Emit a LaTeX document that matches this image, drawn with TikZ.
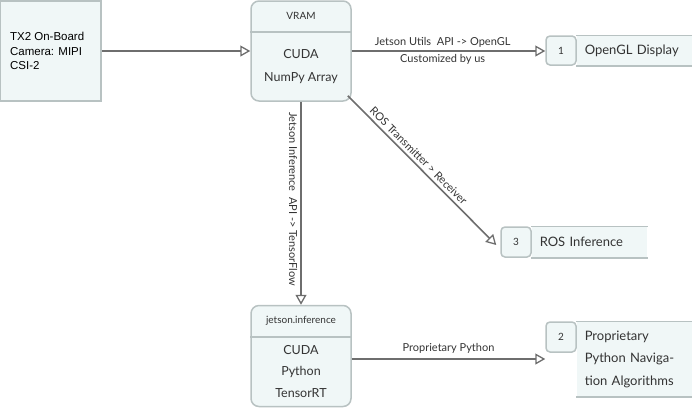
\documentclass[tikz,border=0pt]{standalone}
\usepackage{fontspec}
\setmainfont{Lato}
\newfontfamily\arialfont{Liberation Sans}
\usetikzlibrary{arrows.meta}
\definecolor{boxfill}{HTML}{F0F7F7}
\definecolor{boxline}{HTML}{B8C2C2}
\definecolor{flowline}{HTML}{6E6E6E}
\definecolor{textgray}{HTML}{333333}

\begin{document}
\begin{tikzpicture}[x = 1pt, y = -1pt, line width = 1.5pt, text = textgray,
                        proc/.style = {draw = boxline, fill = boxfill, rounded corners = 8pt, minimum width = 100pt, minimum height = 100pt},
                        store/.style = {fill = boxfill, anchor = west, align = left, inner xsep = 8pt, font = \fontsize{13}{22.5}\selectfont},
                        storeid/.style = {draw = boxline, fill = boxfill, rounded corners = 4pt, minimum width = 30pt, minimum height = 29pt, font = \fontsize{10}{12}\selectfont},
                        flow/.style = {draw = flowline, line width = 1.6pt, -{Triangle[open, length = 10pt, width = 11pt, line width = 1.3pt]}},
                        lbl/.style = {font = \fontsize{11}{13}\selectfont, inner sep = 3pt}]
      \useasboundingbox (0, 0) rectangle (692, 408);
      % entity and processes
      \node [draw = boxline, fill = boxfill, line width = 2pt, minimum width = 101pt, minimum height = 100pt] (cam) at (50.5, 51){};
      \node [anchor = west, align = left, font = \arialfont\fontsize{11.5}{14.5}\selectfont, text = black] (camtext) at (6, 51){TX2 On-Board\\Camera: MIPI\\CSI-2};
      \node [proc] (vram) at (301, 51){};
      \draw [boxline] (vram.west |- 0, 32) -- (vram.east |- 0, 32);
      \node [font = \fontsize{10}{12}\selectfont] (vramtitle) at (301, 16){VRAM};
      \node [align = center, font = \fontsize{12.5}{23}\selectfont] (vrambody) at (301, 66.5){CUDA\\NumPy Array};
      \node [proc, minimum height = 101pt] (jinf) at (301, 356){};
      \draw [boxline] (jinf.west |- 0, 337) -- (jinf.east |- 0, 337);
      \node [font = \fontsize{10}{12}\selectfont] (jinftitle) at (301, 321){jetson.inference};
      \node [align = center, font = \fontsize{12.5}{21.5}\selectfont] (jinfbody) at (301, 371.5){CUDA\\Python\\TensorRT};
      % data stores
      \node [store, text width = 100pt, minimum height = 29pt] (gl) at (576, 50.5){OpenGL Display};
      \draw [boxline] (gl.north west) -- (gl.north east) (gl.south west) -- (gl.south east);
      \node [storeid] (glid) at (561, 50.5){1};
      \node [store, text width = 99pt, minimum height = 30pt] (ros) at (531, 242){ROS Inference};
      \draw [boxline] (ros.north west) -- (ros.north east) (ros.south west) -- (ros.south east);
      \node [storeid, minimum height = 30pt] (rosid) at (516, 242){3};
      \node [store, text width = 100pt, minimum height = 74pt] (nav) at (576, 359){Proprietary\\Python Naviga-\\tion Algorithms};
      \draw [boxline] (nav.north west) -- (nav.north east) (nav.south west) -- (nav.south east);
      \node [storeid, minimum height = 30pt] (navid) at (561, 337){2};
      % flows
      \draw [flow] (cam.east) -- (vram.west);
      \draw [flow] (vram.east) -- (vram.east -| glid.west)
            node [lbl, pos = 0.47, anchor = south] (gllbl){Jetson Utils\ \ API -> OpenGL}
            node [lbl, pos = 0.47, anchor = north] (glsub){Customized by us};
      \draw [flow] (vram.south) -- (jinf.north)
            node [lbl, pos = 0.48, rotate = -90, anchor = north] (jinflbl){Jetson Inference\ \ API -> TensorFlow};
      \draw [flow] ([shift = {(-4, -6)}]vram.south east) -- ([shift = {(-4, 3)}]rosid.west)
            node [lbl, pos = 0.44, rotate = -45, anchor = south] (roslbl){ROS Transmitter > Receiver};
      \draw [flow] ([yshift = -3pt]jinf.east) -- ([yshift = -3pt]jinf.east -| navid.west)
            node [lbl, midway, anchor = south, yshift = 2pt] (navlbl){Proprietary Python};
    \end{tikzpicture}
\end{document}
